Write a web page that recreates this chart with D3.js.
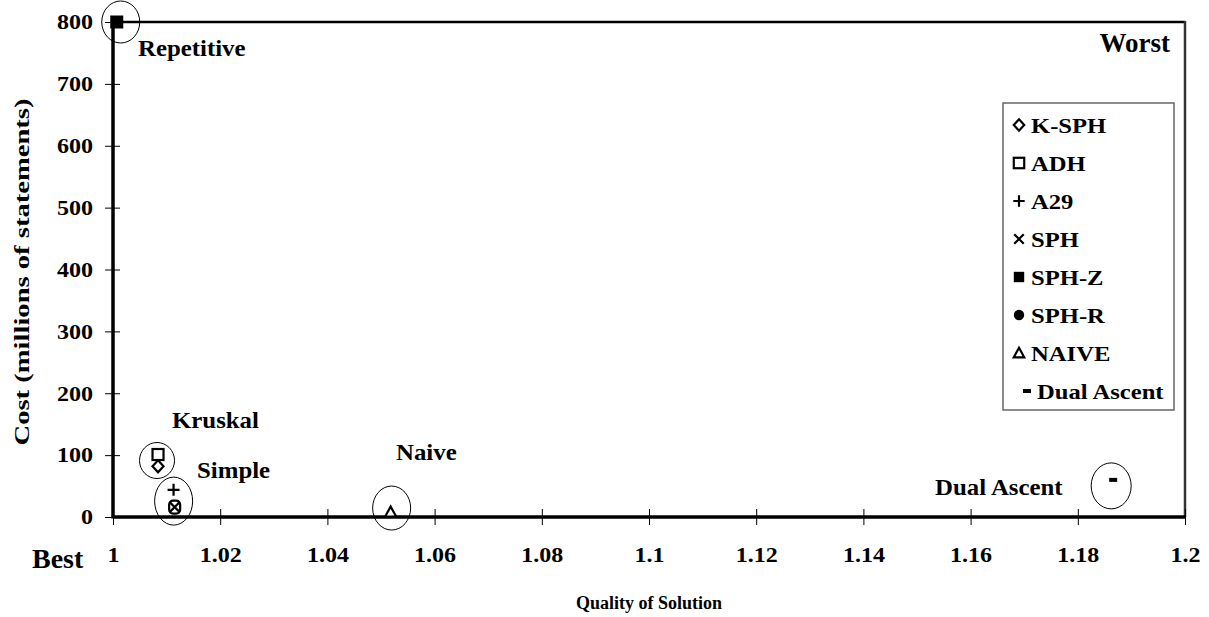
<!DOCTYPE html>
<html>
<head>
<meta charset="utf-8">
<script src="https://cdn.jsdelivr.net/npm/d3@7"></script>
<style>
  html, body { margin: 0; padding: 0; background: #fff; }
  svg { display: block; }
  text { font-family: "Liberation Serif", "Times New Roman", serif; font-weight: bold; fill: #000; }
</style>
</head>
<body>
<svg id="chart" width="1209" height="617"></svg>
<script>
// Heuristic comparison: quality of solution vs. cost
const seriesNames = ["K-SPH", "ADH", "A29", "SPH", "SPH-Z", "SPH-R", "NAIVE", "Dual Ascent"];
const quality     = [1.0084, 1.0084, 1.0113, 1.0115, 1.0007, 1.0115, 1.0518, 1.1866];
const cost        = [82,     101,    44,     16,     800,    16,     8,      60];

const xTicks = [1, 1.02, 1.04, 1.06, 1.08, 1.1, 1.12, 1.14, 1.16, 1.18, 1.2];
const yTicks = [0, 100, 200, 300, 400, 500, 600, 700, 800];

// Group annotations: label and the member point it circles
const groupLabels = ["Repetitive", "Kruskal", "Simple", "Naive", "Dual Ascent"];
const groupAnchor = ["SPH-Z", "ADH", "SPH", "NAIVE", "Dual Ascent"];

const svg = d3.select("#chart");
const plotL = 113, plotR = 1185, plotT = 22, plotB = 517;
const SX = 1.08; // horizontal stretch of the lettering

const x = d3.scaleLinear().domain([1, 1.2]).range([plotL, plotR]);
const y = d3.scaleLinear().domain([0, 800]).range([plotB, plotT]);

function label(px, py, str, size, anchor, sx) {
  return svg.append("text")
    .attr("transform", `translate(${px},${py}) scale(${sx || SX},1)`)
    .attr("text-anchor", anchor || "start")
    .style("font-size", size + "px").text(str);
}

// plot frame (top and right)
svg.append("line").attr("x1", plotL).attr("x2", plotR).attr("y1", plotT).attr("y2", plotT)
  .attr("stroke", "#000").attr("stroke-width", 2.5);
svg.append("line").attr("x1", plotR).attr("x2", plotR).attr("y1", plotT - 1).attr("y2", plotB)
  .attr("stroke", "#333").attr("stroke-width", 2.5);

// axes
const xAxis = d3.axisBottom(x).tickValues(xTicks).tickSize(0)
  .tickFormat(d => d3.format("~g")(d));
const gx = svg.append("g").attr("transform", `translate(0,${plotB})`).call(xAxis);
gx.select(".domain").remove();
gx.selectAll(".tick text").attr("dy", 0).attr("y", 0)
  .attr("transform", "translate(0,45) scale(1.2,1)")
  .style("font-size", "20px").style("font-family", "Liberation Serif").style("font-weight", "bold");
gx.selectAll(".tick").append("line").attr("y1", -8).attr("y2", 8).attr("stroke", "#000").attr("stroke-width", 1);

const yAxis = d3.axisLeft(y).tickValues(yTicks).tickSize(0);
const gy = svg.append("g").attr("transform", `translate(${plotL},0)`).call(yAxis);
gy.select(".domain").remove();
gy.selectAll(".tick text").attr("x", 0).attr("dy", "0.34em")
  .attr("transform", "translate(-20,0) scale(1.2,1)")
  .style("font-size", "20px").style("font-family", "Liberation Serif").style("font-weight", "bold");
gy.selectAll(".tick").append("line").attr("x1", -8).attr("x2", 7).attr("stroke", "#000").attr("stroke-width", 1);

svg.append("line").attr("x1", plotL).attr("x2", plotR).attr("y1", plotB).attr("y2", plotB)
  .attr("stroke", "#000").attr("stroke-width", 3.5);
svg.append("line").attr("x1", plotL).attr("x2", plotL).attr("y1", plotT - 1).attr("y2", plotB + 1.5)
  .attr("stroke", "#000").attr("stroke-width", 3.5);

// axis titles
label((plotL + plotR) / 2, 609, "Quality of Solution", 18, "middle", 1.0);
svg.append("text").attr("transform", `translate(29,${272}) rotate(-90) scale(1.3,1)`)
  .attr("text-anchor", "middle").style("font-size", "22px").text("Cost (millions of statements)");
label(32, 568, "Best", 28, "start", 1.0);
label(1170, 52, "Worst", 27, "end", 1.0);

// marker shapes
function drawMarker(g, name, s) {
  const k = s || 1;
  switch (name) {
    case "K-SPH":
      g.append("path").attr("d", `M0,${-6*k}L${5.5*k},0L0,${6*k}L${-5.5*k},0Z`)
        .attr("fill", "#fff").attr("stroke", "#000").attr("stroke-width", 2.2); break;
    case "ADH":
      g.append("rect").attr("x", -5.5*k).attr("y", -5.5*k).attr("width", 11*k).attr("height", 11*k)
        .attr("fill", "#fff").attr("stroke", "#000").attr("stroke-width", 2.2); break;
    case "A29":
      g.append("path").attr("d", `M${-6*k},0H${6*k}M0,${-6*k}V${6*k}`)
        .attr("stroke", "#000").attr("stroke-width", 2.2); break;
    case "SPH":
      g.append("path").attr("d", `M${-5*k},${-5*k}L${5*k},${5*k}M${-5*k},${5*k}L${5*k},${-5*k}`)
        .attr("stroke", "#000").attr("stroke-width", 2.2); break;
    case "SPH-Z":
      g.append("rect").attr("x", -6.5*k).attr("y", -6.5*k).attr("width", 13*k).attr("height", 13*k)
        .attr("fill", "#000"); break;
    case "SPH-R":
      g.append("circle").attr("r", 6.5*k).attr("fill", "#000"); break;
    case "NAIVE":
      g.append("path").attr("d", `M0,${-5.5*k}L${5.5*k},${4.5*k}L${-5.5*k},${4.5*k}Z`)
        .attr("fill", "#fff").attr("stroke", "#000").attr("stroke-width", 2.2); break;
    case "Dual Ascent":
      g.append("rect").attr("x", -4).attr("y", -2).attr("width", 8).attr("height", 4).attr("fill", "#000"); break;
  }
}

// group ellipses
const ellipseSize = { "Repetitive": [19, 21, 4, 0], "Kruskal": [17.5, 18, -1, 6], "Simple": [19, 24, -1, -6],
                      "Naive": [19, 22, 1, -4], "Dual Ascent": [20, 23, -2, 6] };
groupLabels.forEach((lab, i) => {
  const idx = seriesNames.indexOf(groupAnchor[i]);
  const [rx, ry, dx, dy] = ellipseSize[lab];
  svg.append("ellipse").attr("cx", x(quality[idx]) + dx).attr("cy", y(cost[idx]) + dy)
    .attr("rx", rx).attr("ry", ry).attr("fill", "none").attr("stroke", "#000").attr("stroke-width", 1);
});

// points (SPH and SPH-R overlap; the overlap is drawn as a ringed cross)
const pts = svg.append("g");
seriesNames.forEach((name, i) => {
  const g = pts.append("g").attr("transform", `translate(${x(quality[i])},${y(cost[i])})`);
  if (name === "SPH-R") {
    g.append("rect").attr("x", -5.5).attr("y", -6.5).attr("width", 11).attr("height", 13).attr("rx", 4)
      .attr("fill", "none").attr("stroke", "#000").attr("stroke-width", 2.2);
  } else {
    drawMarker(g, name);
  }
});

// group labels
const labelPos = { "Repetitive": [138, 56], "Kruskal": [172, 428], "Simple": [197, 478],
                   "Naive": [396, 460], "Dual Ascent": [935, 495] };
groupLabels.forEach(lab => label(labelPos[lab][0], labelPos[lab][1], lab, 23));

// legend
const lg = svg.append("g").attr("transform", "translate(1003,103)");
lg.append("rect").attr("width", 171).attr("height", 307).attr("fill", "#fff")
  .attr("stroke", "#666").attr("stroke-width", 1.5);
seriesNames.forEach((name, i) => {
  const cy = 22 + i * 38;
  const dual = name === "Dual Ascent";
  const g = lg.append("g").attr("transform", `translate(${dual ? 24 : 16},${cy})`);
  drawMarker(g, name, name === "SPH-Z" || name === "SPH-R" ? 0.8 : 0.95);
  lg.append("text").attr("transform", `translate(${dual ? 34 : 28},${cy}) scale(1.12,1)`)
    .attr("dy", "0.35em").style("font-size", "22px").text(name);
});
</script>
</body>
</html>
